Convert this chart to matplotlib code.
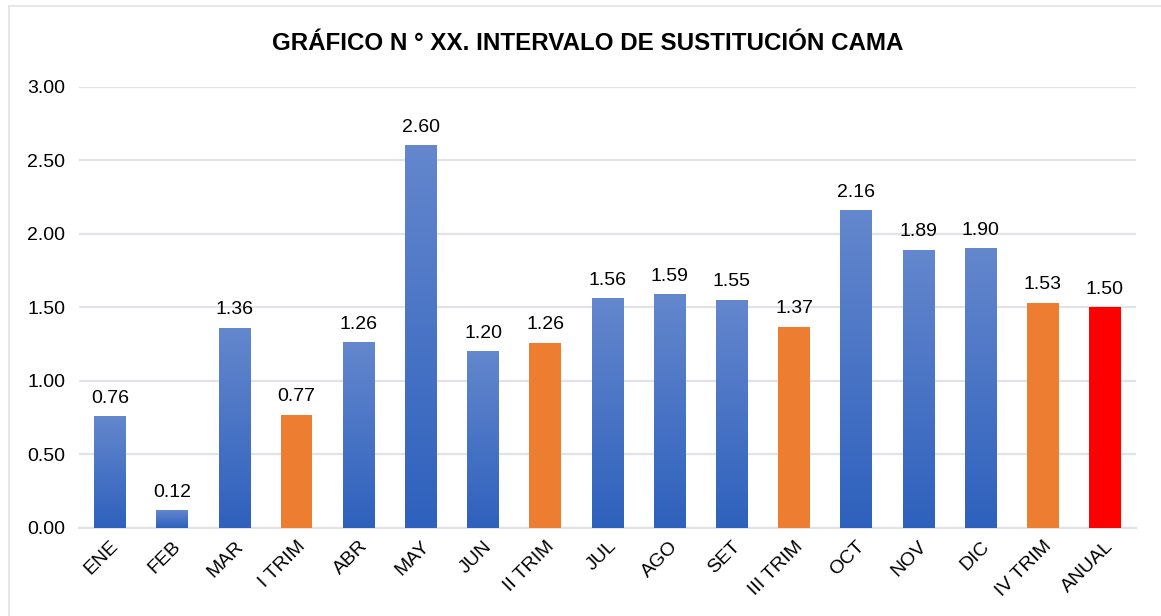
import numpy as np
import matplotlib
matplotlib.use('Agg')
import matplotlib.pyplot as plt
from matplotlib.colors import LinearSegmentedColormap
from matplotlib.lines import Line2D

categories = ['ENE', 'FEB', 'MAR', 'I TRIM', 'ABR', 'MAY', 'JUN', 'II TRIM', 'JUL', 'AGO',
              'SET', 'III TRIM', 'OCT', 'NOV', 'DIC', 'IV TRIM', 'ANUAL']
values = [0.76, 0.12, 1.36, 0.77, 1.26, 2.60, 1.20, 1.26, 1.56, 1.59,
          1.55, 1.37, 2.16, 1.89, 1.90, 1.53, 1.50]
kinds = ['mes', 'mes', 'mes', 'trim', 'mes', 'mes', 'mes', 'trim', 'mes', 'mes',
         'mes', 'trim', 'mes', 'mes', 'mes', 'trim', 'anual']
yticks = [0.0, 0.5, 1.0, 1.5, 2.0, 2.5, 3.0]

plt.rcParams['font.family'] = ['Liberation Sans', 'DejaVu Sans']

fig = plt.figure(figsize=(11.61, 6.16), dpi=100)
ax = fig.add_axes([0.068, 0.1429, 0.9105, 0.7159])

grid_col = '#E0E3E8'
blue_cmap = LinearSegmentedColormap.from_list('azul', ['#2E61BD', '#6487CD'])
solid = {'trim': '#ED7D31', 'anual': '#FF0000'}
width = 0.51
fs = 14

x = np.arange(len(categories))
for i, (v, k) in enumerate(zip(values, kinds)):
    if k == 'mes':
        # gradiente vertical dentro de cada barra
        grad = np.linspace(0, 1, 256).reshape(-1, 1)
        ax.imshow(grad, cmap=blue_cmap, origin='lower', aspect='auto',
                  extent=(i - width / 2, i + width / 2, 0, v), zorder=3)
    else:
        ax.bar(i, v, width=width, color=solid[k], zorder=3)
    ax.annotate(f'{v:.2f}', (i, v), xytext=(0, 7), textcoords='offset points',
                ha='center', va='bottom', fontsize=fs, color='#000000')

ax.set_xlim(-0.5, len(categories) - 0.5)
ax.set_ylim(0, 3.0)
ax.set_yticks(yticks)
ax.set_yticklabels([f'{t:.2f}' for t in yticks], fontsize=fs)
ax.set_xticks(x)
ax.set_xticklabels(categories, rotation=45, ha='right', rotation_mode='anchor', fontsize=fs)
ax.tick_params(length=0, pad=10)
ax.tick_params(axis='x', pad=7)
ax.yaxis.grid(True, color=grid_col, linewidth=1.6, zorder=0)
ax.set_axisbelow(True)
for s in ['top', 'right', 'left']:
    ax.spines[s].set_visible(False)
ax.spines['bottom'].set_color(grid_col)
ax.spines['bottom'].set_linewidth(1.6)

fig.text(0.506, 0.929, 'GRÁFICO N ° XX. INTERVALO DE SUSTITUCIÓN CAMA',
         ha='center', va='center', fontsize=17.4, fontweight='bold')

# borde del área del gráfico (solo visibles arriba e izquierda)
fig.add_artist(Line2D([8.5 / 1161, 8.5 / 1161], [0, 1 - 6 / 616], color=grid_col, lw=1.2))
fig.add_artist(Line2D([8.5 / 1161, 1], [1 - 6 / 616, 1 - 6 / 616], color=grid_col, lw=1.2))

fig.savefig('out.png', dpi=100)
